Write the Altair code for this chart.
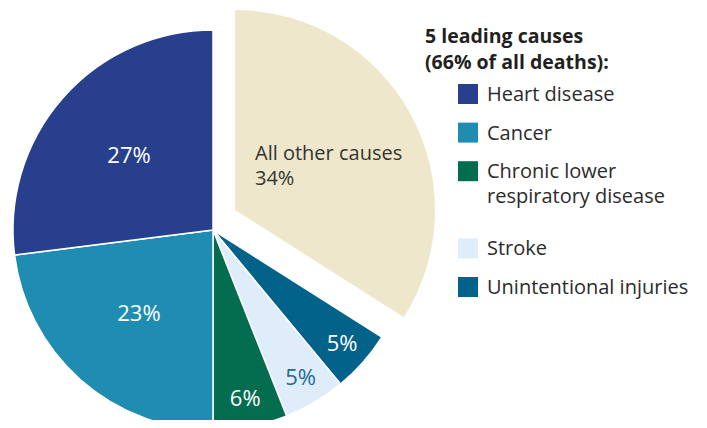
import altair as alt
import pandas as pd

# Data (clockwise from 12 o'clock)
causes = ["All other causes", "Unintentional injuries", "Stroke",
          "Chronic lower respiratory disease", "Cancer", "Heart disease"]
values = [34, 5, 5, 6, 23, 27]

legend_order = ["Heart disease", "Cancer", "Chronic lower respiratory disease",
                "Stroke", "Unintentional injuries"]
legend_labels = ["Heart disease", "Cancer", "Chronic lower\nrespiratory disease",
                 "Stroke", "Unintentional injuries"]
legend_colors = ["#283f8e", "#1e8db1", "#046d4f", "#deedf9", "#03628a"]
other_color = "#efe7cb"
legend_title = "5 leading causes\n(66% of all deaths):"

FONT = "Open Sans"

df = pd.DataFrame({"cause": causes, "value": values, "order": list(range(len(causes)))})
legend_df = pd.DataFrame({"cause": legend_order, "label": legend_labels})

theta_scale = alt.Scale(domain=[0, 100])
color_scale = alt.Scale(domain=legend_order, range=legend_colors)

base = (
    alt.Chart(df)
    .transform_window(cum="sum(value)", sort=[alt.SortField("order", order="ascending")])
    .transform_calculate(start="datum.cum - datum.value", mid="datum.cum - datum.value / 2")
)

main = (
    base.transform_filter("datum.cause != 'All other causes'")
    .mark_arc(outerRadius=200, stroke="white", strokeWidth=1.5)
    .encode(
        x=alt.value(205),
        y=alt.value(222),
        theta=alt.Theta("start:Q", scale=theta_scale),
        theta2="cum:Q",
        color=alt.Color("cause:N", scale=color_scale, legend=None),
    )
)

exploded = (
    base.transform_filter("datum.cause == 'All other causes'")
    .mark_arc(outerRadius=200, color=other_color)
    .encode(
        x=alt.value(227),
        y=alt.value(202),
        theta=alt.Theta("start:Q", scale=theta_scale),
        theta2="cum:Q",
    )
)

pct_labels = (
    base.transform_filter("datum.cause != 'All other causes'")
    .transform_calculate(r="datum.value > 15 ? 112 : 172", label="datum.value + '%'")
    .mark_text(font=FONT, fontSize=22, baseline="middle", align="center")
    .encode(
        x=alt.value(205),
        y=alt.value(222),
        theta=alt.Theta("mid:Q", scale=theta_scale),
        radius=alt.Radius("r:Q", scale=None),
        text="label:N",
        color=alt.condition(alt.datum.cause == "Stroke", alt.value("#1d6c9a"), alt.value("white")),
    )
)

other_label = (
    base.transform_filter("datum.cause == 'All other causes'")
    .transform_calculate(label="datum.cause + '\\n' + datum.value + '%'")
    .mark_text(font=FONT, fontSize=20, align="left", baseline="alphabetic",
               lineBreak="\n", lineHeight=25, color="#333333")
    .encode(x=alt.value(247), y=alt.value(152), text="label:N")
)

title = (
    alt.Chart(pd.DataFrame({"t": [legend_title]}))
    .mark_text(font=FONT, fontSize=19.5, fontWeight="bold", align="left",
               baseline="alphabetic", lineBreak="\n", lineHeight=26, color="#231f20")
    .encode(x=alt.value(417), y=alt.value(35), text="t:N")
)

# Custom legend: one row per label line
leg_base = (
    alt.Chart(legend_df)
    .transform_calculate(lines="length(split(datum.label, '\\n'))")
    .transform_window(cumlines="sum(lines)")
    .transform_calculate(row="datum.cumlines - datum.lines")
)
leg_y = alt.Y("row:Q", scale=alt.Scale(domain=[0, 5], range=[86, 279]), axis=None)

leg_squares = leg_base.mark_square(size=400, opacity=1).encode(
    x=alt.value(460),
    y=leg_y,
    color=alt.Color("cause:N", scale=color_scale, legend=None),
)
leg_text = leg_base.mark_text(
    font=FONT, fontSize=20, align="left", baseline="alphabetic", dy=7,
    lineBreak="\n", lineHeight=25, color="#2b2b2b",
).encode(x=alt.value(479), y=leg_y, text="label:N")

chart = (
    alt.layer(exploded, main, pct_labels, other_label, title, leg_squares, leg_text)
    .properties(width=691, height=412, autosize="none", padding=0)
    .configure_view(stroke=None)
)

chart.save("out.html", embed_options={"renderer": "svg", "actions": False})
